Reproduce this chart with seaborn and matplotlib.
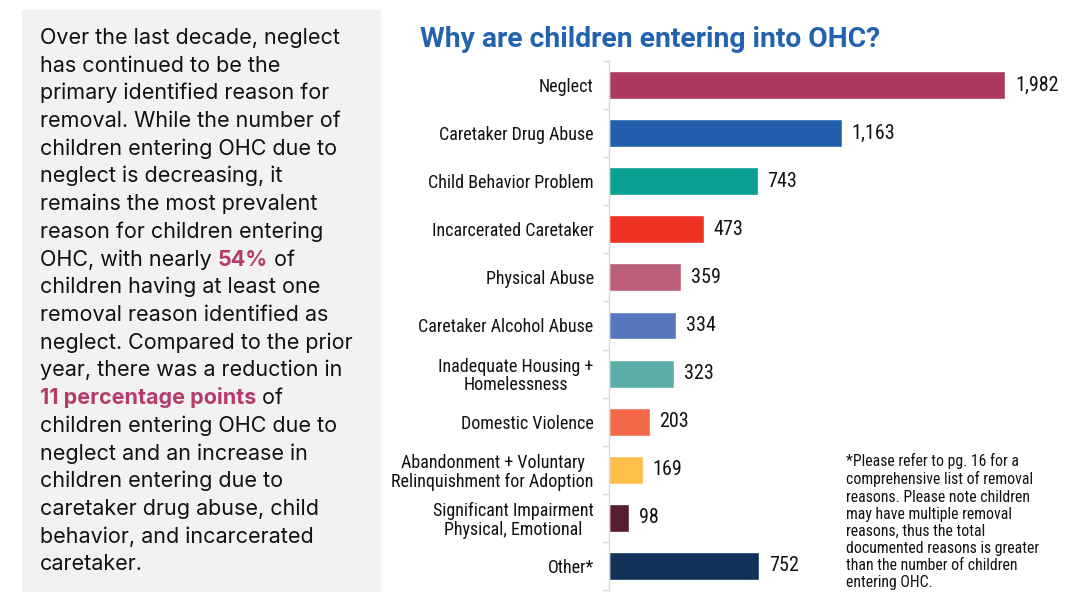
import matplotlib.pyplot as plt
import matplotlib.patches as mpatches
import numpy as np
import pandas as pd
import seaborn as sns

categories = [
    "Neglect",
    "Caretaker Drug Abuse",
    "Child Behavior Problem",
    "Incarcerated Caretaker",
    "Physical Abuse",
    "Caretaker Alcohol Abuse",
    "Inadequate Housing +\nHomelessness",
    "Domestic Violence",
    "Abandonment + Voluntary\nRelinquishment for Adoption",
    "Significant Impairment\nPhysical, Emotional",
    "Other*",
]
counts = [1982, 1163, 743, 473, 359, 334, 323, 203, 169, 98, 752]
bar_colors = [
    "#AD3961", "#2260AD", "#07A092", "#EE3224", "#BC6079", "#5577BD",
    "#5BAEA7", "#F26849", "#FDBF4A", "#581D33", "#12325A",
]

title = "Why are children entering into OHC?"
footnote = (
    "*Please refer to pg. 16 for a\n"
    "comprehensive list of removal\n"
    "reasons. Please note children\n"
    "may have multiple removal\n"
    "reasons, thus the total\n"
    "documented reasons is greater\n"
    "than the number of children\n"
    "entering OHC."
)
# each line is a list of (text, highlighted)
paragraph = [
    [("Over the last decade, neglect", False)],
    [("has continued to be the", False)],
    [("primary identified reason for", False)],
    [("removal. While the number of", False)],
    [("children entering OHC due to", False)],
    [("neglect is decreasing, it", False)],
    [("remains the most prevalent", False)],
    [("reason for children entering", False)],
    [("OHC, with nearly ", False), ("54%", True), (" of", False)],
    [("children having at least one", False)],
    [("removal reason identified as", False)],
    [("neglect. Compared to the prior", False)],
    [("year, there was a reduction in", False)],
    [("11 percentage points", True), (" of", False)],
    [("children entering OHC due to", False)],
    [("neglect and an increase in", False)],
    [("children entering due to", False)],
    [("caretaker drug abuse, child", False)],
    [("behavior, and incarcerated", False)],
    [("caretaker.", False)],
]

sns.set_theme(style="white")
plt.rcParams["font.family"] = ["Roboto", "DejaVu Sans"]
narrow = ["Roboto Condensed", "Roboto", "DejaVu Sans"]

W, H = 1080, 607
fig = plt.figure(figsize=(W / 100, H / 100), dpi=100)
fig.patch.set_facecolor("white")

# grey text panel
fig.patches.append(
    mpatches.Rectangle(
        (22 / W, 1 - 592 / H), (381 - 22) / W, (592 - 10) / H,
        transform=fig.transFigure, facecolor="#F2F2F2", edgecolor="none",
        zorder=0,
    )
)

highlight = "#B53C6A"
y0 = 1 - 44 / H
dy = 27.7 / H
for i, line in enumerate(paragraph):
    y = y0 - i * dy
    last = None
    for txt, hl in line:
        kw = dict(
            fontsize=15.5, va="baseline", ha="left",
            color=highlight if hl else "#111111",
            fontweight="bold" if hl else "normal",
            family=["Inter", "Roboto", "DejaVu Sans"],
        )
        if last is None:
            last = fig.text(40 / W, y, txt, **kw)
        else:
            last = fig.add_artist(
                plt.Annotation(
                    txt, xy=(1, y), xycoords=(last, "figure fraction"),
                    **kw,
                )
            )

fig.text(420 / W, 1 - 47 / H, title, fontsize=20.3, fontweight="bold",
         color="#2262AE", ha="left", va="baseline")

df = pd.DataFrame({"reason": categories, "count": counts})

ax = fig.add_axes([609 / W, 1 - 590 / H, 440 / W, (590 - 61) / H])
sns.barplot(
    data=df, y="reason", x="count", hue="reason", palette=bar_colors,
    orient="h", width=0.58, legend=False, ax=ax, saturation=1,
)
ax.set_xlim(0, 2200)
ax.set_ylim(len(categories) - 0.5, -0.5)
ax.set_xlabel("")
ax.set_ylabel("")
ax.set_xticks([])
ax.set_facecolor("none")
for s in ["top", "right", "bottom"]:
    ax.spines[s].set_visible(False)
ax.spines["left"].set_color("#D9D9D9")
ax.spines["left"].set_linewidth(1)

ax.set_yticks(range(len(categories)))
ax.set_yticklabels(categories, family=narrow, fontsize=13, color="#111111",
                   linespacing=1.05, multialignment="center")
ax.tick_params(axis="y", length=0, pad=11)
ax.set_yticks(np.arange(-0.5, len(categories), 1), minor=True)
ax.tick_params(axis="y", which="minor", length=5, color="#D9D9D9", width=1,
               left=True)

for bar, val in zip(ax.patches, counts):
    ax.text(bar.get_width() + 50, bar.get_y() + bar.get_height() / 2,
            f"{val:,}", va="center", ha="left", fontsize=14.5,
            family=narrow, color="#111111")

fig.text(846 / W, 1 - 453 / H, footnote, fontsize=11.3, family=narrow,
         color="#111111", ha="left", va="top", linespacing=1.18)

fig.savefig("out.png", dpi=100)
